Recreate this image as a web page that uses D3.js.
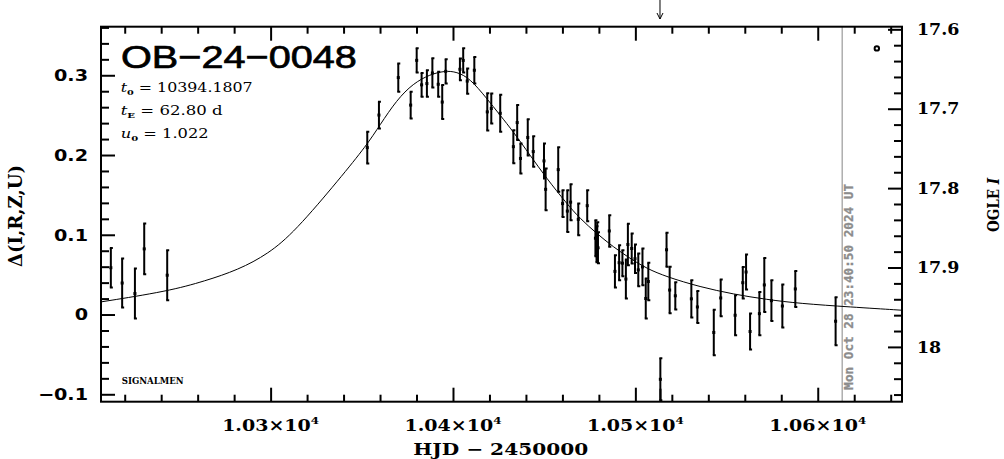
<!DOCTYPE html>
<html><head><meta charset="utf-8">
<script src="https://cdn.jsdelivr.net/npm/d3@7"></script>
<style>body{margin:0;background:#fff}svg{display:block}</style>
</head><body>
<svg id="c" width="1004" height="459"></svg>
<script>
// ---------------- data ----------------
const eventName = "OB−24−0048";
const paramSym = ["t", "t", "u"];
const paramSub = ["0", "E", "0"];
const paramVal = ["10394.1807", "62.80 d", "1.022"];

const hjd = [10212.4,10218.6,10225.6,10230.7,10243.3,10353.0,10359.4,10370.0,10376.8,10380.1,
10382.8,10385.7,10388.7,10391.9,10394.1,10396.0,10403.8,10405.6,10407.8,10411.7,
10418.8,10421.0,10425.9,10433.1,10435.2,10437.0,10441.0,10444.0,10449.9,10450.8,
10457.7,10460.1,10462.7,10464.5,10468.7,10473.6,10478.1,10478.7,10479.1,10479.5,
10485.7,10488.8,10491.1,10492.9,10494.8,10495.9,10498.0,10499.8,10501.6,10503.9,
10505.7,10507.1,10513.7,10517.1,10518.8,10521.9,10530.7,10534.0,10543.0,10546.8,
10554.7,10558.9,10560.7,10562.9,10568.0,10570.7,10574.6,10580.6,10587.7,10609.8];
const delta = [0.0587,0.0395,0.0263,0.0823,0.0493,0.2093,0.2501,0.2971,0.2626,0.3187,
0.2880,0.2896,0.3029,0.2887,0.2664,0.3049,0.3075,0.3186,0.2927,0.3063,
0.2541,0.2583,0.2523,0.2105,0.2407,0.1957,0.2220,0.2043,0.1926,0.1570,
0.1817,0.1391,0.1297,0.1409,0.1193,0.1365,0.0957,0.0882,0.0995,0.0838,
0.1048,0.0541,0.0650,0.0644,0.0445,0.0878,0.0828,0.0700,0.0560,0.0597,
0.0201,0.0414,-0.0812,0.0812,0.0307,0.0235,0.0197,0.0095,-0.0225,0.0208,
-0.0009,0.0399,0.0533,-0.0213,0.0011,0.0371,0.0174,0.0107,0.0321,-0.0084];
const err = [0.0248,0.0307,0.0314,0.0318,0.0314,0.0198,0.0167,0.0178,0.0167,0.0151,
0.0149,0.0166,0.0183,0.0157,0.0213,0.0151,0.0136,0.0152,0.0159,0.0166,
0.0232,0.0189,0.0232,0.0207,0.0220,0.0188,0.0227,0.0191,0.0220,0.0262,
0.0279,0.0168,0.0262,0.0226,0.0199,0.0194,0.0226,0.0226,0.0163,0.0194,
0.0198,0.0203,0.0220,0.0163,0.0245,0.0261,0.0188,0.0178,0.0206,0.0231,
0.0251,0.0236,0.0263,0.0212,0.0291,0.0171,0.0233,0.0201,0.0286,0.0230,
0.0251,0.0198,0.0220,0.0226,0.0272,0.0339,0.0256,0.0270,0.0226,0.0301];

const modelT = [10206.9,10243.8,10264.0,10282.2,10298.7,10313.3,10338.0,10352.7,10359.9,10369.1,
10378.2,10387.4,10395.6,10402.0,10409.3,10418.5,10425.8,10433.1,10442.2,10451.4,
10462.3,10469.6,10478.8,10487.9,10497.1,10506.2,10517.2,10535.5,10553.7,10572.0,
10590.3,10617.7,10646.2];
const modelD = [0.0158,0.0292,0.0420,0.0560,0.0760,0.1040,0.1706,0.2124,0.2375,0.2689,
0.2898,0.3011,0.3056,0.3044,0.2961,0.2710,0.2501,0.2291,0.1999,0.1706,
0.1393,0.1205,0.1016,0.0848,0.0703,0.0577,0.0472,0.0346,0.0255,0.0188,
0.0138,0.0095,0.0054];

const xTicks = [10300, 10400, 10500, 10600];
const xTickLabels = ["1.03×10", "1.04×10", "1.05×10", "1.06×10"];
const xTickExp = "4";
const yTicks = [-0.1, 0, 0.1, 0.2, 0.3];
const yTickLabels = ["−0.1", "0", "0.1", "0.2", "0.3"];
const magTicks = [17.6, 17.7, 17.8, 17.9, 18];
const magTickLabels = ["17.6", "17.7", "17.8", "17.9", "18"];
const markerT = 10513.5;
const dateLineT = 10613.4;
const stamp = "Mon Oct 28 23:40:50 2024 UT";
const oglePoint = [10632.4, 0.3337];
const xTitle = "HJD − 2450000";
const yTitle = "Δ(I,R,Z,U)";
const y2Title = ["OGLE ", "I"];
const credit = "SIGNALMEN";

// ---------------- layout ----------------
const L = 101, R = 902, T = 26.7, B = 401.7;
const x = d3.scaleLinear().domain([10207, 10646.2]).range([L, R]);
const y = d3.scaleLinear().domain([-0.1093, 0.3609]).range([B, T]);
const m = d3.scaleLinear().domain([18.069, 17.5967]).range([B, T]);

const svg = d3.select("#c");
svg.append("rect").attr("width", 1004).attr("height", 459).attr("fill", "#fff");

function txt(parent, px, py, opts, build) {
  const g = parent.append("g").attr("transform", `translate(${px},${py})` + (opts.rotate ? ` rotate(${opts.rotate})` : ""));
  const s = g.append("g");
  const t = s.append("text").attr("text-anchor", opts.anchor || "start")
    .attr("font-family", opts.family).attr("font-size", opts.size)
    .attr("font-weight", opts.weight || "normal").attr("fill", opts.fill || "#000");
  if (opts.dy) t.attr("dy", opts.dy);
  if (opts.stroke) t.attr("stroke", opts.fill || "#000").attr("stroke-width", opts.stroke);
  build(t);
  let k = opts.k || 1;
  if (opts.w) k = opts.w / t.node().getComputedTextLength();
  s.attr("transform", `scale(${k},1)`);
  return t;
}

// clip
svg.append("clipPath").attr("id", "clip").append("rect")
  .attr("x", L).attr("y", T).attr("width", R - L).attr("height", B - T);

// date line (grey)
svg.append("line").attr("x1", x(dateLineT)).attr("x2", x(dateLineT))
  .attr("y1", T).attr("y2", B).attr("stroke", "#9a9a9a").attr("stroke-width", 1.2);
txt(svg, x(dateLineT) + 11, B - 12, {rotate: -90, family: "DejaVu Sans Mono", size: 12, weight: "bold", fill: "#8c8c8c", w: 206, stroke: 0.3},
  t => t.text(stamp));

// model curve
const line = d3.line().x((d, i) => x(modelT[i])).y((d, i) => y(modelD[i])).curve(d3.curveBasis);
svg.append("path").attr("clip-path", "url(#clip)").datum(modelT).attr("d", line)
  .attr("fill", "none").attr("stroke", "#000").attr("stroke-width", 1);

// data points with error bars
const pts = svg.append("g").attr("clip-path", "url(#clip)");
const idx = d3.range(hjd.length);
pts.selectAll("line.eb").data(idx).join("line").attr("class", "eb")
  .attr("x1", i => x(hjd[i])).attr("x2", i => x(hjd[i]))
  .attr("y1", i => y(delta[i] + err[i])).attr("y2", i => y(delta[i] - err[i]))
  .attr("stroke", "#000").attr("stroke-width", 2);
["+", "-"].forEach(sg => {
  pts.selectAll("line.cap" + (sg === "+" ? "p" : "m")).data(idx).join("line")
    .attr("class", "cap" + (sg === "+" ? "p" : "m"))
    .attr("x1", i => x(hjd[i]) - 1).attr("x2", i => x(hjd[i]) + 2)
    .attr("y1", i => y(delta[i] + (sg === "+" ? 1 : -1) * err[i]))
    .attr("y2", i => y(delta[i] + (sg === "+" ? 1 : -1) * err[i]))
    .attr("stroke", "#000").attr("stroke-width", 2);
});
pts.selectAll("rect.dot").data(idx).join("rect").attr("class", "dot")
  .attr("x", i => x(hjd[i]) - 1.5).attr("y", i => y(delta[i]) - 1.5)
  .attr("width", 3).attr("height", 3).attr("fill", "#000");

// OGLE marker
svg.append("circle").attr("cx", x(oglePoint[0])).attr("cy", y(oglePoint[1])).attr("r", 2.2)
  .attr("fill", "#fff").attr("stroke", "#000").attr("stroke-width", 2);

// ticks
const xMinor = d3.range(10220, 10646, 20).filter(v => v % 100 !== 0);
const yMinor = d3.range(-10, 37, 2).map(v => v / 100).filter(v => Math.abs(v * 10 - Math.round(v * 10)) > 1e-6);
const mMinor = d3.range(880, 904, 1).map(v => v / 50).filter(v => Math.abs(v * 10 - Math.round(v * 10)) > 1e-6);

function axisG(axis, tr) {
  const g = svg.append("g").attr("transform", tr).call(axis);
  g.select(".domain").remove();
  g.selectAll("line").attr("stroke", "#000").attr("stroke-width", 2);
  g.selectAll("text").remove();
  return g;
}
axisG(d3.axisBottom(x).tickValues(xTicks).tickSize(-14), `translate(0,${B})`);
axisG(d3.axisBottom(x).tickValues(xMinor).tickSize(-7), `translate(0,${B})`);
axisG(d3.axisBottom(x).tickValues([markerT]).tickSize(-13), `translate(0,${B})`);
axisG(d3.axisTop(x).tickValues(xTicks).tickSize(-14), `translate(0,${T})`);
axisG(d3.axisTop(x).tickValues(xMinor).tickSize(-7), `translate(0,${T})`);
axisG(d3.axisLeft(y).tickValues(yTicks).tickSize(-14), `translate(${L},0)`);
axisG(d3.axisLeft(y).tickValues(yMinor).tickSize(-8), `translate(${L},0)`);
axisG(d3.axisRight(m).tickValues(magTicks).tickSize(-14), `translate(${R},0)`);
axisG(d3.axisRight(m).tickValues(mMinor).tickSize(-8), `translate(${R},0)`);

// frame
svg.append("rect").attr("x", L).attr("y", T).attr("width", R - L).attr("height", B - T)
  .attr("fill", "none").attr("stroke", "#000").attr("stroke-width", 2);

// arrow at top
const ax = x(markerT);
svg.append("path").attr("d", `M${ax},0V19M${ax - 3},13L${ax},19L${ax + 3},13`)
  .attr("fill", "none").attr("stroke", "#000").attr("stroke-width", 1);

// tick labels
yTicks.forEach((v, i) => txt(svg, 88, y(v), {anchor: "end", family: "DejaVu Sans", size: 16, weight: "bold", k: 1.2, dy: "0.36em"},
  t => t.text(yTickLabels[i])));
magTicks.forEach((v, i) => txt(svg, 917, m(v), {anchor: "start", family: "DejaVu Serif", size: 16, weight: "bold", k: 1.09, dy: "0.36em"},
  t => t.text(magTickLabels[i])));
xTicks.forEach((v, i) => txt(svg, x(v), 430.5, {anchor: "middle", family: "DejaVu Serif", size: 16, weight: "bold", w: 97},
  t => { t.append("tspan").text(xTickLabels[i]); t.append("tspan").attr("dy", -7).attr("font-size", 10).text(xTickExp); }));

// axis titles
txt(svg, 500.7, 454.5, {anchor: "middle", family: "DejaVu Serif", size: 17, weight: "bold", w: 175}, t => t.text(xTitle));
txt(svg, 22, 216, {anchor: "middle", rotate: -90, family: "DejaVu Serif", size: 18, weight: "bold", w: 102}, t => t.text(yTitle));
txt(svg, 998.5, 205, {anchor: "middle", rotate: -90, family: "DejaVu Serif", size: 17, weight: "bold", w: 54},
  t => { t.append("tspan").text(y2Title[0]); t.append("tspan").attr("font-style", "italic").text(y2Title[1]); });

// title and parameters
txt(svg, 121, 67.7, {family: "Liberation Sans", size: 32, weight: "normal", w: 236, stroke: 0.7}, t => t.text(eventName));
const pW = [132, 102, 88];
paramVal.forEach((v, i) => txt(svg, 120.7, 92 + i * 23, {family: "DejaVu Serif", size: 13, w: pW[i]}, t => {
  t.append("tspan").attr("font-style", "italic").text(paramSym[i]);
  t.append("tspan").attr("dy", 3).attr("font-size", 8).attr("font-weight", "bold").text(paramSub[i]);
  t.append("tspan").attr("dy", -3).text(" = " + v);
}));
txt(svg, 121.7, 384, {family: "DejaVu Serif", size: 9, weight: "bold", w: 62}, t => t.text(credit));
</script>
</body></html>
